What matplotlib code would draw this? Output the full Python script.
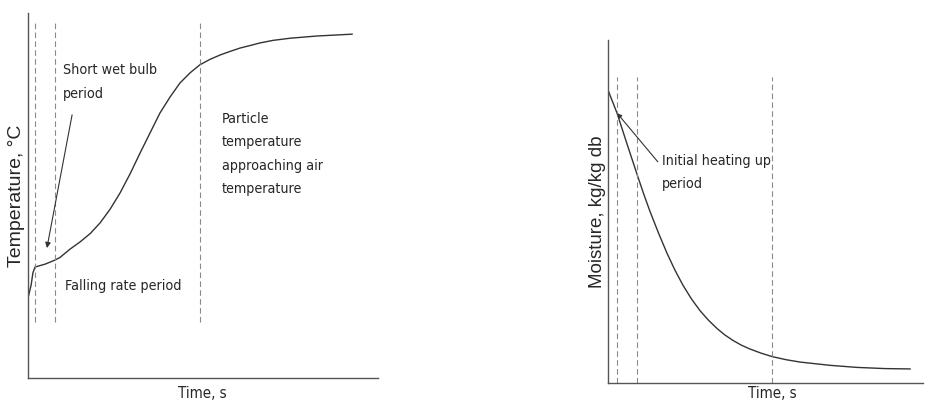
"""Drying curves: particle temperature and moisture vs time (schematic)."""
import matplotlib.pyplot as plt

# ---- data (arbitrary units 0-100) ----
temp_time = [0, 0.9, 1.4, 2.0, 4.9, 7.7, 9.1, 12.0, 14.9, 17.8, 20.6, 23.5,
             26.3, 29.2, 32.0, 34.9, 37.7, 40.6, 43.4, 46.3, 49.1, 52.0, 54.9,
             57.8, 60.6, 63.5, 66.3, 70.0, 75.0, 82.6, 92.6]
temp_val = [21.9, 25.5, 28.8, 30.4, 31.2, 32.3, 33.0, 35.3, 37.3, 39.6, 42.5,
            46.3, 50.7, 56.0, 61.6, 67.2, 72.6, 77.0, 80.8, 83.6, 85.8, 87.3,
            88.5, 89.5, 90.4, 91.1, 91.8, 92.5, 93.1, 93.7, 94.2]
temp_dashes = [2.0, 7.7, 49.1]

moist_time = [0, 2.86, 6.0, 9.2, 11.3, 13.3, 16.0, 18.7, 21.2, 23.8, 26.5,
              29.2, 31.9, 34.6, 37.1, 39.7, 42.4, 45.1, 48.6, 52.1, 56.5, 61.0,
              70.5, 79.0, 88.0, 95.9]
moist_val = [85.4, 78.7, 69.8, 60.9, 55.2, 50.1, 43.8, 37.9, 33.0, 28.5, 24.5,
             21.1, 18.3, 15.9, 14.0, 12.4, 11.0, 9.9, 8.7, 7.7, 6.8, 6.1,
             5.15, 4.55, 4.2, 4.1]
moist_dashes = [2.86, 9.2, 52.1]

LINE = "#333333"
DASH = "#8a8a8a"
TXT = "#262626"
COND = ["Liberation Sans Narrow", "DejaVu Sans"]

fig = plt.figure(figsize=(9.25, 4.03), dpi=100)
W, H = 925, 403


def note(ax, x, y, s, **kw):
    kw.setdefault("fontsize", 10.3)
    ax.text(x, y, s, ha="left", family=COND, stretch="condensed",
            color=TXT, **kw)


def make_axes(x0, x1, y_top, y_bot):
    ax = fig.add_axes([x0 / W, (H - y_bot) / H, (x1 - x0) / W, (y_bot - y_top) / H])
    ax.set_xlim(0, 100); ax.set_ylim(0, 100)
    for s in ("top", "right"):
        ax.spines[s].set_visible(False)
    for s in ("left", "bottom"):
        ax.spines[s].set_color("#555555"); ax.spines[s].set_linewidth(1.0)
    ax.set_xticks([]); ax.set_yticks([])
    ax.patch.set_alpha(0)
    return ax


# left panel: temperature
ax1 = make_axes(28, 378, 13, 378)
ax1.plot(temp_time, temp_val, color=LINE, lw=1.0)
for x in temp_dashes:
    ax1.plot([x, x], [15.3, 97.3], color=DASH, lw=0.8, dashes=(5, 3))
note(ax1, 10, 86.3, "Short wet bulb\nperiod", va="top", linespacing=1.95)
ax1.annotate("", xy=(5.4, 35.6), xytext=(12.6, 72.1),
             arrowprops=dict(arrowstyle="-|>", color=LINE, lw=0.8,
                             mutation_scale=8, shrinkA=0, shrinkB=0))
note(ax1, 10.6, 25.2, "Falling rate period", va="center")
note(ax1, 55.4, 72.9, "Particle\ntemperature\napproaching air\ntemperature",
     va="top", linespacing=1.86)
fig.text(17 / W, 1 - 196 / H, "Temperature, \u00b0C", rotation=90,
         ha="center", va="center", fontsize=14, family="Liberation Sans",
         color=TXT)
fig.text(202 / W, 1 - 394 / H, "Time, s", ha="center", va="center",
         fontsize=10.8, family=COND, stretch="condensed", color=TXT)

# right panel: moisture
ax2 = make_axes(608, 923, 40, 383)
ax2.plot(moist_time, moist_val, color=LINE, lw=1.0)
for x in moist_dashes:
    ax2.plot([x, x], [0, 89.2], color=DASH, lw=0.8, dashes=(5, 3))
ax2.annotate("", xy=(2.86, 78.7), xytext=(15.8, 64.5),
             arrowprops=dict(arrowstyle="-|>", color=LINE, lw=0.8,
                             mutation_scale=7, shrinkA=0, shrinkB=0))
note(ax2, 17.1, 66.8, "Initial heating up\nperiod", va="top", linespacing=1.86)
fig.text(597 / W, 1 - 212 / H, "Moisture, kg/kg db", rotation=90,
         ha="center", va="center", fontsize=13.5, family="Liberation Sans",
         color=TXT)
fig.text(772 / W, 1 - 394 / H, "Time, s", ha="center", va="center",
         fontsize=10.8, family=COND, stretch="condensed", color=TXT)

fig.savefig("out.png", dpi=100)
